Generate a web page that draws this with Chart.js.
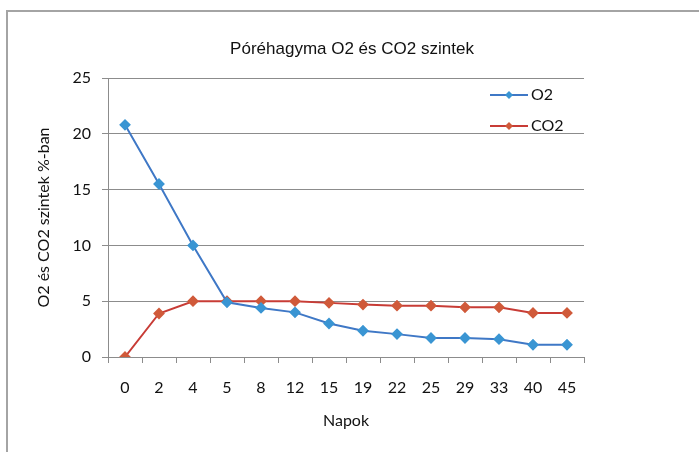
<!DOCTYPE html>
<html>
<head>
<meta charset="utf-8">
<script src="https://cdn.jsdelivr.net/npm/chart.js@4"></script>
<style>
  html, body { margin: 0; padding: 0; background: #fff; overflow: hidden; }
  #wrap { position: relative; width: 699px; height: 452px; }
  #frame { position: absolute; left: 6px; top: 10px; width: 700px; height: 450px;
           border-left: 2px solid #a4a4a4; border-top: 2px solid #a4a4a4; pointer-events: none; }
  canvas { position: absolute; left: 0; top: 0; }
</style>
</head>
<body>
<div id="wrap">
  <canvas id="chart" width="699" height="452"></canvas>
  <div id="frame"></div>
</div>
<script>
// napok (category axis)
const days = ['0', '2', '4', '5', '8', '12', '15', '19', '22', '25', '29', '33', '40', '45'];
// O2 szint %
const o2 = [20.8, 15.5, 10.0, 4.9, 4.4, 4.0, 3.0, 2.35, 2.05, 1.7, 1.7, 1.6, 1.1, 1.1];
// CO2 szint %
const co2 = [0, 3.9, 5.0, 5.0, 5.0, 5.0, 4.85, 4.7, 4.6, 4.6, 4.45, 4.45, 3.95, 3.95];
const yTicks = [0, 5, 10, 15, 20, 25];
const chartTitle = 'Póréhagyma O2 és CO2 szintek';

const tickFont = { family: 'Lato, "Liberation Sans", sans-serif', size: 16 };

// title is drawn by hand, the original is not centred on the plot
const titleText = {
  id: 'titleText',
  afterDraw(chart) {
    const ctx = chart.ctx;
    ctx.save();
    ctx.fillStyle = '#111';
    ctx.font = '17px "Liberation Sans", Arial, sans-serif';
    ctx.textAlign = 'center';
    ctx.textBaseline = 'middle';
    ctx.fillText(chartTitle, 352, 49);
    ctx.restore();
  }
};

// legend drawn inside the plot area, top right
const innerLegend = {
  id: 'innerLegend',
  afterDraw(chart) {
    const ctx = chart.ctx;
    const items = [[0, 95], [1, 126]];
    ctx.save();
    items.forEach(function (it) {
      const ds = chart.data.datasets[it[0]];
      const y = it[1];
      ctx.strokeStyle = ds.borderColor;
      ctx.lineWidth = 2;
      ctx.beginPath();
      ctx.moveTo(490, y);
      ctx.lineTo(528, y);
      ctx.stroke();
      ctx.fillStyle = ds.pointBackgroundColor;
      ctx.beginPath();
      ctx.moveTo(509, y - 4);
      ctx.lineTo(513, y);
      ctx.lineTo(509, y + 4);
      ctx.lineTo(505, y);
      ctx.closePath();
      ctx.fill();
      ctx.fillStyle = '#111';
      ctx.font = '16px Lato, "Liberation Sans", sans-serif';
      ctx.textBaseline = 'middle';
      ctx.textAlign = 'left';
      ctx.fillText(ds.label, 531, y);
    });
    ctx.restore();
  }
};

const ctx = document.getElementById('chart').getContext('2d');
const chart = new Chart(ctx, {
  type: 'line',
  data: {
    labels: days,
    datasets: [{
      label: 'O2',
      data: o2,
      borderColor: '#3f78c6',
      backgroundColor: '#3a95d3',
      pointBackgroundColor: '#3a95d3',
      pointBorderColor: '#3a95d3',
      borderWidth: 2,
      pointStyle: 'rectRot',
      pointRadius: 4.5,
      tension: 0,
      fill: false,
    },
    {
      label: 'CO2',
      data: co2,
      borderColor: '#c83c36',
      backgroundColor: '#d05a3a',
      pointBackgroundColor: '#d05a3a',
      pointBorderColor: '#d05a3a',
      borderWidth: 2,
      pointStyle: 'rectRot',
      pointRadius: 4.5,
      tension: 0,
      fill: false,
    }],
  },
  options: {
    responsive: false,
    animation: false,
    layout: {
      padding: { left: 26, right: 115, top: 78, bottom: 12 }
    },
    plugins: {
      legend: { display: false },
      tooltip: { enabled: false },
      title: { display: false }
    },
    scales: {
      x: {
        type: 'category',
        offset: true,
        afterFit: function (scale) { scale.height = 83; },
        grid: {
          offset: true,
          drawOnChartArea: false,
          color: '#8c8c8c',
          tickLength: 6,
        },
        border: { color: '#8c8c8c', width: 1 },
        ticks: {
          color: '#111',
          font: tickFont,
          padding: 15,
          maxRotation: 0,
          autoSkip: false,
        },
        title: {
          display: true,
          text: 'Napok',
          color: '#111',
          font: tickFont,
          padding: { top: 0, bottom: 10 }
        }
      },
      y: {
        min: 0,
        max: 25,
        afterFit: function (scale) { scale.width = 82; },
        afterBuildTicks: function (scale) {
          scale.ticks = yTicks.map(function (v) { return { value: v }; });
        },
        grid: {
          color: '#8c8c8c',
          tickLength: 6,
        },
        border: { color: '#8c8c8c', width: 1 },
        ticks: {
          color: '#111',
          font: tickFont,
          padding: 11,
        },
        title: {
          display: true,
          text: 'O2 és CO2 szintek %-ban',
          color: '#111',
          font: tickFont,
          padding: { top: 8, bottom: 0 }
        }
      }
    }
  },
  plugins: [titleText, innerLegend]
});
</script>
</body>
</html>
